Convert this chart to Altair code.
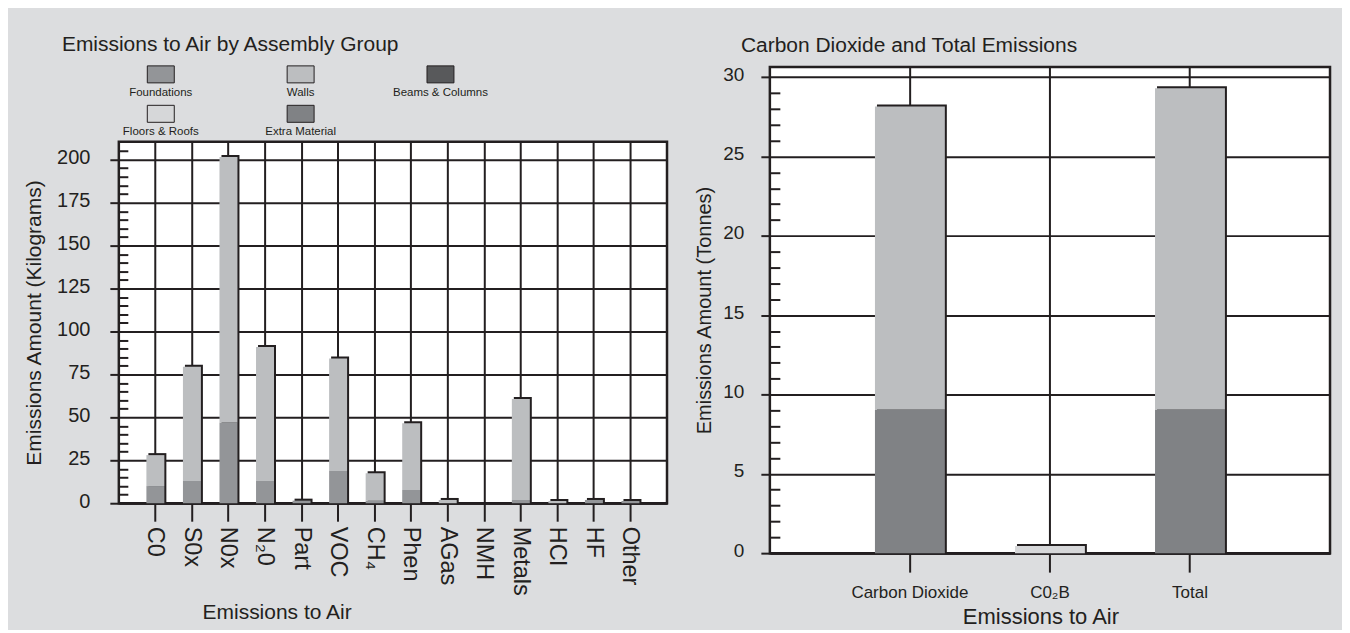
import altair as alt
import pandas as pd

INK = "#231f20"
BG = "#dcdddf"
FONT = "Liberation Sans"

# ---- data ----
groups = ["Foundations", "Walls", "Beams & Columns", "Floors & Roofs", "Extra Material"]
group_colors = ["#939598", "#bcbec0", "#58595b", "#d6d7d9", "#808285"]

air_categories = ["C0", "S0x", "N0x", "N₂0", "Part", "VOC", "CH₄", "Phen",
                  "AGas", "NMH", "Metals", "HCl", "HF", "Other"]
air_foundations = [10, 13, 47, 13, 1.5, 18.8, 1.4, 7.7, 0, 0, 1.9, 0, 1.9, 1.3]
air_walls = [18, 66.4, 154.5, 78, 0, 65.4, 16, 38.8, 1.9, 0, 58.7, 1.3, 0, 0]

co2_categories = ["Carbon Dioxide", "C0₂B", "Total"]
co2_extra = [9.05, 0, 9.05]
co2_walls = [19.1, 0, 20.25]
co2_floors = [0, 0.45, 0]

# ---- tables ----
left_rows = []
for i, c in enumerate(air_categories):
    for k, (g, vals) in enumerate((("Foundations", air_foundations), ("Walls", air_walls))):
        left_rows.append({"cat": c, "group": g, "value": vals[i], "stack": k})
left_df = pd.DataFrame(left_rows)

right_rows = []
for i, c in enumerate(co2_categories):
    for k, (g, vals) in enumerate((("Extra Material", co2_extra), ("Walls", co2_walls),
                                   ("Floors & Roofs", co2_floors))):
        right_rows.append({"cat": c, "group": g, "value": vals[i], "stack": k})
right_df = pd.DataFrame(right_rows)

legend_df = pd.DataFrame({"name": groups,
                          "col": [i % 3 for i in range(len(groups))],
                          "row": [i // 3 for i in range(len(groups))]})

color_scale = alt.Scale(domain=groups, range=group_colors)

# ---- legend panel (left, above plot) ----
lx = alt.X("col:Q", scale=alt.Scale(domain=[-0.3, 3.62], nice=False, zero=False), axis=None)
ly = alt.Y("row:Q", scale=alt.Scale(domain=[-0.19, 1.709], nice=False, zero=False, reverse=True), axis=None)
swatches = alt.Chart(legend_df).mark_point(
    shape="M-1,-0.63L1,-0.63L1,0.63L-1,0.63Z", size=729, filled=True,
    stroke=INK, strokeWidth=1, opacity=1
).encode(x=lx, y=ly, color=alt.Color("name:N", scale=color_scale, legend=None))
legend_text = alt.Chart(legend_df).mark_text(
    dy=18.5, fontSize=11.5, font=FONT, color=INK
).encode(x=lx, y=ly, text="name:N")
legend_panel = alt.layer(swatches, legend_text).properties(
    width=549, height=75,
    title=alt.TitleParams("Emissions to Air by Assembly Group", anchor="start", frame="group",
                          dx=-57, fontSize=21, fontWeight="normal", font=FONT, color=INK,
                          offset=9),
)

# ---- shared axis builder ----
def band_x(cats, title, label_kw, title_x, title_y, title_size):
    return alt.X("cat:N", sort=cats,
                 scale=alt.Scale(paddingInner=0, paddingOuter=0.5),
                 axis=alt.Axis(title=title, grid=True, gridColor=INK, gridWidth=2, gridOpacity=1,
                               bandPosition=0.5, tickSize=label_kw.pop("tickSize"), tickWidth=2,
                               tickColor=INK, domainColor=INK, domainWidth=2,
                               labelColor=INK, labelFont=FONT, titleFont=FONT, titleColor=INK,
                               titleFontWeight="normal", titleFontSize=title_size,
                               titleX=title_x, titleY=title_y, titleBaseline="alphabetic",
                               **label_kw))

# ---- left plot ----
left_x = band_x(air_categories, "Emissions to Air",
                dict(tickSize=18, labelAngle=90, labelAlign="left", labelBaseline="middle",
                     labelFontSize=23.5, labelPadding=5),
                158, 115, 21)
left_yscale = alt.Scale(domain=[0, 210.4], nice=False, zero=True)

left_shadow = alt.Chart(left_df).transform_filter("datum.value > 0").mark_bar(
    size=18, color=INK, xOffset=2, yOffset=-2
).encode(
    x=left_x,
    y=alt.Y("sum(value):Q", scale=left_yscale,
            axis=alt.Axis(values=[v for v in range(5, 210, 5) if v % 25], orient="left",
                          offset=-9, tickSize=9, tickWidth=2, tickColor=INK,
                          labels=False, domain=False, grid=False, title=None)),
)
left_bars = alt.Chart(left_df).mark_bar(size=18).encode(
    x=left_x,
    y=alt.Y("value:Q", stack="zero", scale=left_yscale,
            axis=alt.Axis(values=list(range(0, 201, 25)), orient="left",
                          title="Emissions Amount (Kilograms)", grid=True, gridColor=INK,
                          gridWidth=2, gridOpacity=1, domain=False, tickSize=9, tickWidth=2,
                          tickColor=INK, labelFontSize=20, labelPadding=20, labelOffset=-2,
                          labelColor=INK, labelFont=FONT, titleFont=FONT, titleColor=INK,
                          titleFontSize=21, titleFontWeight="normal", titlePadding=12)),
    color=alt.Color("group:N", scale=color_scale, legend=None),
    order=alt.Order("stack:Q", sort="ascending"),
)
left_plot = alt.layer(left_shadow, left_bars).resolve_axis(y="independent").properties(
    width=549, height=362,
    view=alt.ViewBackground(fill="white", stroke=INK, strokeWidth=2.5),
)

left_col = alt.vconcat(legend_panel, left_plot, spacing=0, bounds="flush")

# ---- right plot ----
right_x = band_x(co2_categories, "Emissions to Air",
                 dict(tickSize=19, labelAngle=0, labelAlign="center", labelBaseline="top",
                      labelFontSize=17, labelPadding=12),
                 271, 70, 22)
right_yscale = alt.Scale(domain=[0, 30.65], nice=False, zero=True)

right_shadow = alt.Chart(right_df).transform_filter("datum.value > 0").mark_bar(
    size=70, color=INK, xOffset=2, yOffset=-2
).encode(
    x=right_x,
    y=alt.Y("sum(value):Q", scale=right_yscale,
            axis=alt.Axis(values=[v for v in range(1, 30) if v % 5], orient="left",
                          offset=-10, tickSize=10, tickWidth=2, tickColor=INK,
                          labels=False, domain=False, grid=False, title=None)),
)
right_bars = alt.Chart(right_df).mark_bar(size=70).encode(
    x=right_x,
    y=alt.Y("value:Q", stack="zero", scale=right_yscale,
            axis=alt.Axis(values=list(range(0, 31, 5)), orient="left",
                          title="Emissions Amount (Tonnes)", grid=True, gridColor=INK,
                          gridWidth=2, gridOpacity=1, domain=False, tickSize=9, tickWidth=2,
                          tickColor=INK, labelFontSize=19, labelPadding=17, labelOffset=-3,
                          labelColor=INK, labelFont=FONT, titleFont=FONT, titleColor=INK,
                          titleFontSize=20, titleFontWeight="normal", titlePadding=8)),
    color=alt.Color("group:N", scale=color_scale, legend=None),
    order=alt.Order("stack:Q", sort="ascending"),
)
right_plot = alt.layer(right_shadow, right_bars).resolve_axis(y="independent").properties(
    width=561, height=487,
    view=alt.ViewBackground(fill="white", stroke=INK, strokeWidth=2.5),
    title=alt.TitleParams("Carbon Dioxide and Total Emissions", anchor="start", frame="group",
                          dx=-29, fontSize=21, fontWeight="normal", font=FONT, color=INK,
                          offset=9),
)

chart = alt.hconcat(left_col, right_plot, spacing=24).properties(
    background=BG,
    padding={"left": 14, "top": 24.5, "right": 10, "bottom": 0},
).configure_view(strokeWidth=0)

chart.save("out.html", embed_options={"renderer": "svg", "actions": False})
